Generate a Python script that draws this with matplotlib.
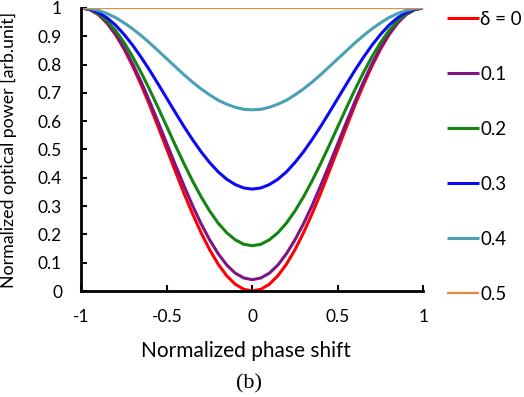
import numpy as np
import matplotlib
matplotlib.use("Agg")
import matplotlib.pyplot as plt

# phase shift from -1 to 1, step 0.05
phase = np.round(np.arange(-1.0, 1.0001, 0.05), 2)

p_00 = [1.000, 0.994, 0.976, 0.946, 0.905, 0.854, 0.794, 0.727, 0.655, 0.578,
        0.500, 0.422, 0.345, 0.273, 0.206, 0.146, 0.095, 0.054, 0.024, 0.006,
        0.000,
        0.006, 0.024, 0.054, 0.095, 0.146, 0.206, 0.273, 0.345, 0.422, 0.500,
        0.578, 0.655, 0.727, 0.794, 0.854, 0.905, 0.946, 0.976, 0.994, 1.000]
p_01 = [1.000, 0.994, 0.977, 0.948, 0.908, 0.859, 0.802, 0.738, 0.668, 0.595,
        0.520, 0.445, 0.372, 0.302, 0.238, 0.181, 0.132, 0.092, 0.063, 0.046,
        0.040,
        0.046, 0.063, 0.092, 0.132, 0.181, 0.238, 0.302, 0.372, 0.445, 0.520,
        0.595, 0.668, 0.738, 0.802, 0.859, 0.908, 0.948, 0.977, 0.994, 1.000]
p_02 = [1.000, 0.995, 0.979, 0.954, 0.920, 0.877, 0.827, 0.771, 0.710, 0.646,
        0.580, 0.514, 0.450, 0.389, 0.333, 0.283, 0.240, 0.206, 0.181, 0.165,
        0.160,
        0.165, 0.181, 0.206, 0.240, 0.283, 0.333, 0.389, 0.450, 0.514, 0.580,
        0.646, 0.710, 0.771, 0.827, 0.877, 0.920, 0.954, 0.979, 0.995, 1.000]
p_03 = [1.000, 0.996, 0.984, 0.965, 0.939, 0.906, 0.868, 0.825, 0.779, 0.730,
        0.680, 0.630, 0.581, 0.535, 0.492, 0.454, 0.421, 0.395, 0.376, 0.364,
        0.360,
        0.364, 0.376, 0.395, 0.421, 0.454, 0.492, 0.535, 0.581, 0.630, 0.680,
        0.730, 0.779, 0.825, 0.868, 0.906, 0.939, 0.965, 0.984, 0.996, 1.000]
p_04 = [1.000, 0.998, 0.991, 0.980, 0.966, 0.947, 0.926, 0.902, 0.876, 0.848,
        0.820, 0.792, 0.764, 0.738, 0.714, 0.693, 0.674, 0.660, 0.649, 0.642,
        0.640,
        0.642, 0.649, 0.660, 0.674, 0.693, 0.714, 0.738, 0.764, 0.792, 0.820,
        0.848, 0.876, 0.902, 0.926, 0.947, 0.966, 0.980, 0.991, 0.998, 1.000]
p_05 = [1.0] * 41

labels = ["δ = 0", "0.1", "0.2", "0.3", "0.4", "0.5"]
series = [p_00, p_01, p_02, p_03, p_04, p_05]
colors = ["#FF0000", "#7E1485", "#138513", "#0A0AF5", "#4AA1B6", "#E8893F"]
widths = [2.2, 2.2, 2.2, 2.2, 2.2, 1.6]

plt.rcParams['font.family'] = ['Lato', 'DejaVu Sans']

fig = plt.figure(figsize=(5.24, 3.97), dpi=100)
ax = fig.add_axes([0.1555, 0.267, 0.652, 0.713])

for y, c, lw, lab in zip(series, colors, widths, labels):
    ax.plot(phase, y, color=c, lw=lw, label=lab, solid_capstyle='butt')

ax.set_xlim(-1, 1)
ax.set_ylim(0, 1)
ax.set_xticks([-1, -0.5, 0, 0.5, 1])
ax.set_xticklabels(["-1", "-0.5", "0", "0.5", "1"])
ax.set_yticks(np.arange(0, 1.01, 0.1))
ax.set_yticklabels(["0", "0.1", "0.2", "0.3", "0.4", "0.5", "0.6", "0.7", "0.8", "0.9", "1"])
ax.tick_params(direction='in', length=4, width=1.5, labelsize=12.5)
ax.tick_params(axis='x', pad=13)
ax.tick_params(axis='y', pad=14)
ax.spines['top'].set_visible(False)
ax.spines['right'].set_visible(False)
ax.spines['left'].set_linewidth(2)
ax.spines['bottom'].set_linewidth(2)

ax.set_xlabel("Normalized phase shift", fontsize=15)
ax.xaxis.set_label_coords(0.482, -0.175)
ax.set_ylabel("Normalized optical power [arb.unit]", fontsize=12.8)
ax.yaxis.set_label_coords(-0.19, 0.5)

fig.legend(loc='upper left', bbox_to_anchor=(0.8387, 0.992), frameon=False,
           fontsize=13.5, handlelength=1.7, handletextpad=0.08,
           labelspacing=2.03, borderaxespad=0)

fig.text(0.475, 0.022, "(b)", fontsize=16, family='Liberation Serif', ha='center')

fig.savefig("out.png", dpi=100)
